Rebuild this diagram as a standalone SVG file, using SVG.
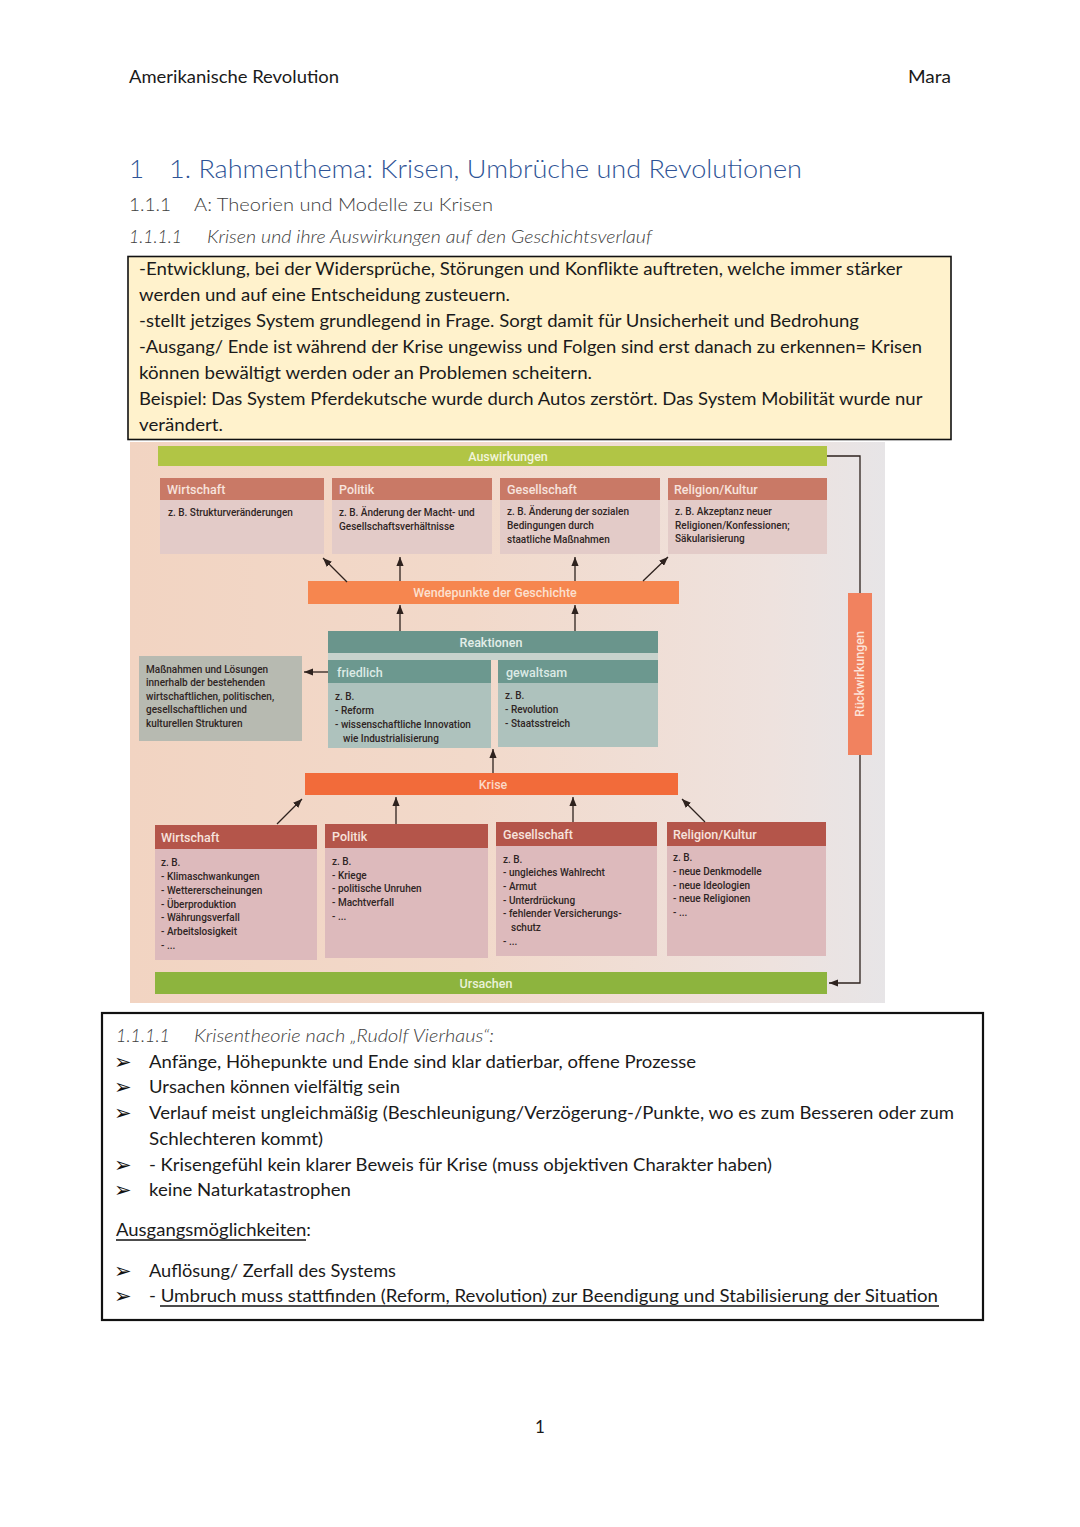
<svg xmlns="http://www.w3.org/2000/svg" width="1080" height="1527" viewBox="0 0 1080 1527">
<defs>
<linearGradient id="photo" x1="0" y1="0" x2="1" y2="0">
<stop offset="0" stop-color="#F2D4C2"/>
<stop offset="0.45" stop-color="#F2D9CA"/>
<stop offset="0.85" stop-color="#EEE2DE"/>
<stop offset="1" stop-color="#E7E5E7"/>
</linearGradient>
<marker id="ah" viewBox="0 0 10 8" refX="10" refY="4" markerWidth="9" markerHeight="7.2" markerUnits="userSpaceOnUse" orient="auto">
<path d="M0,0 L10,4 L0,8 z" fill="#2E221E"/>
</marker>
<style>
.doc{font-family:Lato,"Liberation Sans",sans-serif;fill:#1a1a1a}
.lt{font-family:Lato,"Liberation Sans",sans-serif;font-weight:300;fill:#404040}
.dg{font-family:Roboto,"Liberation Sans",sans-serif;font-weight:500;font-size:10px;fill:#2f2524}
.hd{font-family:Roboto,"Liberation Sans",sans-serif;font-weight:500;font-size:12.5px;fill:#F7E3DD}
.hdg{font-family:Roboto,"Liberation Sans",sans-serif;font-weight:500;font-size:12.5px;fill:#DCEAE5}
.bar{font-family:Roboto,"Liberation Sans",sans-serif;font-weight:500;font-size:12.5px;text-anchor:middle}
.bul{font-family:"DejaVu Sans",sans-serif;font-size:21px;fill:#111}
.con{stroke:#2E221E;stroke-width:1.3;fill:none}
.redh{fill:#C97966}
.redb{fill:#E3CBC8}
.redh2{fill:#B4554A}
.redb2{fill:#DDBABC}
</style>
</defs>

<!-- page header -->
<g id="page-header">
<text class="doc" x="129" y="83" font-size="17" fill="#333" textLength="210" lengthAdjust="spacingAndGlyphs">Amerikanische Revolution</text>
<text class="doc" x="951" y="83" font-size="17" fill="#333" text-anchor="end" textLength="43" lengthAdjust="spacingAndGlyphs">Mara</text>
</g>

<g id="headings">
<text x="129" y="178" font-family="Lato, 'Liberation Sans', sans-serif" font-weight="300" font-size="26" fill="#2F5496">1</text>
<text x="169" y="178" font-family="Lato, 'Liberation Sans', sans-serif" font-weight="300" font-size="26" fill="#2F5496" textLength="633" lengthAdjust="spacingAndGlyphs">1. Rahmenthema: Krisen, Umbrüche und Revolutionen</text>
<text class="lt" x="129" y="211" font-size="18.5" textLength="42" lengthAdjust="spacingAndGlyphs">1.1.1</text>
<text class="lt" x="194" y="211" font-size="18.5" textLength="299" lengthAdjust="spacingAndGlyphs">A: Theorien und Modelle zu Krisen</text>
<text class="lt" x="129" y="243" font-size="17" font-style="italic" textLength="53" lengthAdjust="spacingAndGlyphs">1.1.1.1</text>
<text class="lt" x="207" y="243" font-size="17" font-style="italic" textLength="445" lengthAdjust="spacingAndGlyphs">Krisen und ihre Auswirkungen auf den Geschichtsverlauf</text>
</g>

<g id="definition-box">
<rect x="128" y="256.5" width="823" height="183" fill="#FFF2CC" stroke="#111" stroke-width="1.6"/>
<text class="doc" font-size="17">
<tspan x="139" y="275" textLength="763" lengthAdjust="spacingAndGlyphs">-Entwicklung, bei der Widersprüche, Störungen und Konflikte auftreten, welche immer stärker</tspan>
<tspan x="139" y="301" textLength="371" lengthAdjust="spacingAndGlyphs">werden und auf eine Entscheidung zusteuern.</tspan>
<tspan x="139" y="327" textLength="720" lengthAdjust="spacingAndGlyphs">-stellt jetziges System grundlegend in Frage. Sorgt damit für Unsicherheit und Bedrohung</tspan>
<tspan x="139" y="353" textLength="783" lengthAdjust="spacingAndGlyphs">-Ausgang/ Ende ist während der Krise ungewiss und Folgen sind erst danach zu erkennen= Krisen</tspan>
<tspan x="139" y="379" textLength="453" lengthAdjust="spacingAndGlyphs">können bewältigt werden oder an Problemen scheitern.</tspan>
<tspan x="139" y="405" textLength="783" lengthAdjust="spacingAndGlyphs">Beispiel: Das System Pferdekutsche wurde durch Autos zerstört. Das System Mobilität wurde nur</tspan>
<tspan x="139" y="431" textLength="84" lengthAdjust="spacingAndGlyphs">verändert.</tspan>
</text>
</g>

<!-- diagram (photo) -->
<rect id="photo-bg" x="130" y="442" width="755" height="561" fill="url(#photo)"/>

<g id="auswirkungen">
<rect x="158" y="446" width="669" height="20" fill="#B1C545"/>
<text class="bar" x="508" y="460.5" fill="#F1F4DA">Auswirkungen</text>
</g>

<g id="a-wirtschaft">
<rect class="redh" x="160" y="478" width="164" height="22"/>
<rect class="redb" x="160" y="500" width="164" height="54"/>
<text class="hd" x="167" y="493.5">Wirtschaft</text>
<text class="dg" x="168" y="516">z. B. Strukturveränderungen</text>
</g>
<g id="a-politik">
<rect class="redh" x="332" y="478" width="160" height="22"/>
<rect class="redb" x="332" y="500" width="160" height="54"/>
<text class="hd" x="339" y="493.5">Politik</text>
<text class="dg"><tspan x="339" y="516">z. B. Änderung der Macht- und</tspan><tspan x="339" y="530">Gesellschaftsverhältnisse</tspan></text>
</g>
<g id="a-gesellschaft">
<rect class="redh" x="500" y="478" width="160" height="22"/>
<rect class="redb" x="500" y="500" width="160" height="54"/>
<text class="hd" x="507" y="493.5">Gesellschaft</text>
<text class="dg"><tspan x="507" y="515">z. B. Änderung der sozialen</tspan><tspan x="507" y="529">Bedingungen durch</tspan><tspan x="507" y="543">staatliche Maßnahmen</tspan></text>
</g>
<g id="a-religion">
<rect class="redh" x="668" y="478" width="159" height="22"/>
<rect class="redb" x="668" y="500" width="159" height="54"/>
<text class="hd" x="674" y="493.5">Religion/Kultur</text>
<text class="dg"><tspan x="675" y="515">z. B. Akzeptanz neuer</tspan><tspan x="675" y="529">Religionen/Konfessionen;</tspan><tspan x="675" y="542">Säkularisierung</tspan></text>
</g>

<g id="wendepunkte">
<rect x="308" y="581" width="371" height="23" fill="#F6864F"/>
<text class="bar" x="495" y="597" fill="#FCE0CF">Wendepunkte der Geschichte</text>
</g>

<g id="reaktionen">
<rect x="328" y="631" width="330" height="22" fill="#6A958C"/>
<rect x="328" y="653" width="330" height="7" fill="#C7D2CC"/>
<text class="bar" x="491" y="646.5" fill="#E3EEE9">Reaktionen</text>
</g>

<g id="friedlich">
<rect x="328" y="660" width="163" height="23" fill="#6C988F"/>
<rect x="328" y="683" width="163" height="65" fill="#AEC2BD"/>
<text class="hdg" x="337" y="676.5">friedlich</text>
<text class="dg"><tspan x="335" y="700">z. B.</tspan><tspan x="335" y="714">- Reform</tspan><tspan x="335" y="728">- wissenschaftliche Innovation</tspan><tspan x="343" y="742">wie Industrialisierung</tspan></text>
</g>

<g id="gewaltsam">
<rect x="498" y="660" width="160" height="23" fill="#6C988F"/>
<rect x="498" y="683" width="160" height="64" fill="#AEC2BD"/>
<text class="hdg" x="506" y="676.5">gewaltsam</text>
<text class="dg"><tspan x="505" y="699">z. B.</tspan><tspan x="505" y="713">- Revolution</tspan><tspan x="505" y="727">- Staatsstreich</tspan></text>
</g>

<g id="massnahmen">
<rect x="139" y="656" width="163" height="85" fill="#B7BAB1"/>
<text class="dg"><tspan x="146" y="673">Maßnahmen und Lösungen</tspan><tspan x="146" y="686">innerhalb der bestehenden</tspan><tspan x="146" y="700">wirtschaftlichen, politischen,</tspan><tspan x="146" y="713">gesellschaftlichen und</tspan><tspan x="146" y="727">kulturellen Strukturen</tspan></text>
</g>

<g id="krise">
<rect x="305" y="773" width="373" height="22" fill="#F26B3A"/>
<text class="bar" x="493" y="788.5" fill="#FBD9C8">Krise</text>
</g>

<g id="u-wirtschaft">
<rect class="redh2" x="155" y="825" width="162" height="24"/>
<rect class="redb2" x="155" y="849" width="162" height="111"/>
<text class="hd" x="161" y="842">Wirtschaft</text>
<text class="dg"><tspan x="161" y="866">z. B.</tspan><tspan x="161" y="880">- Klimaschwankungen</tspan><tspan x="161" y="894">- Wettererscheinungen</tspan><tspan x="161" y="908">- Überproduktion</tspan><tspan x="161" y="921">- Währungsverfall</tspan><tspan x="161" y="935">- Arbeitslosigkeit</tspan><tspan x="161" y="949">- ...</tspan></text>
</g>
<g id="u-politik">
<rect class="redh2" x="325" y="824" width="163" height="24"/>
<rect class="redb2" x="325" y="848" width="163" height="110"/>
<text class="hd" x="332" y="841">Politik</text>
<text class="dg"><tspan x="332" y="865">z. B.</tspan><tspan x="332" y="879">- Kriege</tspan><tspan x="332" y="892">- politische Unruhen</tspan><tspan x="332" y="906">- Machtverfall</tspan><tspan x="332" y="920">- ...</tspan></text>
</g>
<g id="u-gesellschaft">
<rect class="redh2" x="496" y="822" width="161" height="24"/>
<rect class="redb2" x="496" y="846" width="161" height="110"/>
<text class="hd" x="503" y="839">Gesellschaft</text>
<text class="dg"><tspan x="503" y="863">z. B.</tspan><tspan x="503" y="876">- ungleiches Wahlrecht</tspan><tspan x="503" y="890">- Armut</tspan><tspan x="503" y="904">- Unterdrückung</tspan><tspan x="503" y="917">- fehlender Versicherungs-</tspan><tspan x="511" y="931">schutz</tspan><tspan x="503" y="945">- ...</tspan></text>
</g>
<g id="u-religion">
<rect class="redh2" x="667" y="822" width="159" height="24"/>
<rect class="redb2" x="667" y="846" width="159" height="110"/>
<text class="hd" x="673" y="839">Religion/Kultur</text>
<text class="dg"><tspan x="673" y="861">z. B.</tspan><tspan x="673" y="875">- neue Denkmodelle</tspan><tspan x="673" y="889">- neue Ideologien</tspan><tspan x="673" y="902">- neue Religionen</tspan><tspan x="673" y="916">- ...</tspan></text>
</g>

<g id="ursachen">
<rect x="155" y="972" width="672" height="22" fill="#8DB43E"/>
<text class="bar" x="486" y="987.5" fill="#EAF2D8">Ursachen</text>
</g>

<g id="rueckwirkungen">
<rect x="848" y="593" width="24" height="162" fill="#F1825F"/>
<text class="bar" x="0" y="0" fill="#FCE3D8" font-size="11" transform="translate(864,674) rotate(-90)">Rückwirkungen</text>
</g>

<g id="connectors">
<line class="con" x1="347" y1="582" x2="323" y2="558" marker-end="url(#ah)"/>
<line class="con" x1="400" y1="581" x2="400" y2="557" marker-end="url(#ah)"/>
<line class="con" x1="575" y1="581" x2="575" y2="557" marker-end="url(#ah)"/>
<line class="con" x1="643" y1="581" x2="668" y2="557" marker-end="url(#ah)"/>
<line class="con" x1="400" y1="631" x2="400" y2="605" marker-end="url(#ah)"/>
<line class="con" x1="575" y1="631" x2="575" y2="605" marker-end="url(#ah)"/>
<line class="con" x1="328" y1="672" x2="304" y2="672" marker-end="url(#ah)"/>
<line class="con" x1="493" y1="773" x2="493" y2="749" marker-end="url(#ah)"/>
<line class="con" x1="277" y1="824" x2="302" y2="799" marker-end="url(#ah)"/>
<line class="con" x1="396" y1="824" x2="396" y2="797" marker-end="url(#ah)"/>
<line class="con" x1="573" y1="822" x2="573" y2="797" marker-end="url(#ah)"/>
<line class="con" x1="705" y1="822" x2="682" y2="799" marker-end="url(#ah)"/>
<polyline class="con" points="827,456 860,456 860,593" stroke-width="1"/>
<polyline class="con" points="860,755 860,983 829,983" stroke-width="1" marker-end="url(#ah)"/>
</g>

<g id="theory-box">
<rect x="102" y="1013" width="881" height="307" fill="none" stroke="#111" stroke-width="2.2"/>
<text class="lt" x="116" y="1042" font-size="17" font-style="italic" textLength="54" lengthAdjust="spacingAndGlyphs">1.1.1.1</text>
<text class="lt" x="194" y="1042" font-size="17" font-style="italic" textLength="300" lengthAdjust="spacingAndGlyphs">Krisentheorie nach „Rudolf Vierhaus“:</text>
<text class="bul" x="114" y="1069">➢</text>
<text class="doc" x="149" y="1068" font-size="17.5" textLength="547" lengthAdjust="spacingAndGlyphs">Anfänge, Höhepunkte und Ende sind klar datierbar, offene Prozesse</text>
<text class="bul" x="114" y="1094">➢</text>
<text class="doc" x="149" y="1093" font-size="17.5" textLength="251" lengthAdjust="spacingAndGlyphs">Ursachen können vielfältig sein</text>
<text class="bul" x="114" y="1120">➢</text>
<text class="doc" x="149" y="1119" font-size="17.5" textLength="805" lengthAdjust="spacingAndGlyphs">Verlauf meist ungleichmäßig (Beschleunigung/Verzögerung-/Punkte, wo es zum Besseren oder zum</text>
<text class="doc" x="149" y="1145" font-size="17.5" textLength="174" lengthAdjust="spacingAndGlyphs">Schlechteren kommt)</text>
<text class="bul" x="114" y="1172">➢</text>
<text class="doc" x="149" y="1171" font-size="17.5" textLength="623" lengthAdjust="spacingAndGlyphs">- Krisengefühl kein klarer Beweis für Krise (muss objektiven Charakter haben)</text>
<text class="bul" x="114" y="1197">➢</text>
<text class="doc" x="149" y="1196" font-size="17.5" textLength="202" lengthAdjust="spacingAndGlyphs">keine Naturkatastrophen</text>
<text class="doc" x="116" y="1236" font-size="17.5" textLength="195" lengthAdjust="spacingAndGlyphs">Ausgangsmöglichkeiten:</text>
<line x1="116" y1="1240" x2="306" y2="1240" stroke="#111" stroke-width="1.3"/>
<text class="bul" x="114" y="1278">➢</text>
<text class="doc" x="149" y="1277" font-size="17.5" textLength="247" lengthAdjust="spacingAndGlyphs">Auflösung/ Zerfall des Systems</text>
<text class="bul" x="114" y="1303">➢</text>
<text class="doc" x="149" y="1302" font-size="17.5" textLength="789" lengthAdjust="spacingAndGlyphs">- Umbruch muss stattfinden (Reform, Revolution) zur Beendigung und Stabilisierung der Situation</text>
<line x1="160" y1="1306" x2="939" y2="1306" stroke="#111" stroke-width="1.3"/>
</g>

<text id="page-number" class="doc" x="540" y="1433" font-size="17" text-anchor="middle">1</text>
</svg>
